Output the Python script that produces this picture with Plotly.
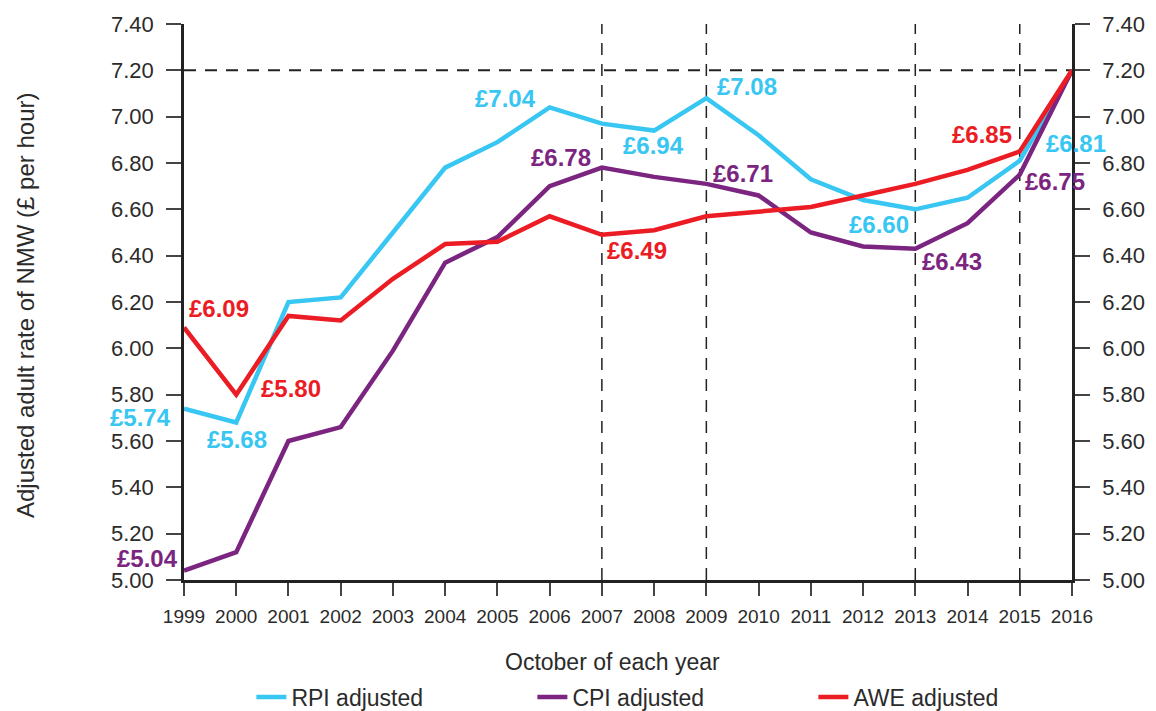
import plotly.graph_objects as go

years = list(range(1999, 2017))
rpi = [5.74, 5.68, 6.20, 6.22, 6.50, 6.78, 6.89, 7.04, 6.97, 6.94, 7.08, 6.92, 6.73, 6.64, 6.60, 6.65, 6.81, 7.20]
cpi = [5.04, 5.12, 5.60, 5.66, 5.99, 6.37, 6.48, 6.70, 6.78, 6.74, 6.71, 6.66, 6.50, 6.44, 6.43, 6.54, 6.75, 7.20]
awe = [6.09, 5.80, 6.14, 6.12, 6.30, 6.45, 6.46, 6.57, 6.49, 6.51, 6.57, 6.59, 6.61, 6.66, 6.71, 6.77, 6.85, 7.20]
y_ticks = [5.0, 5.2, 5.4, 5.6, 5.8, 6.0, 6.2, 6.4, 6.6, 6.8, 7.0, 7.2, 7.4]
target = 7.20
dashed_years = [2007, 2009, 2013, 2015]

C_RPI = "#38c6f2"
C_CPI = "#7b2581"
C_AWE = "#ec1c24"
TXT = "#2b2b2b"

series = {"RPI": (rpi, C_RPI, "RPI adjusted"),
          "CPI": (cpi, C_CPI, "CPI adjusted"),
          "AWE": (awe, C_AWE, "AWE adjusted")}

fig = go.Figure()
for key in ["RPI", "CPI", "AWE"]:
    vals, col, name = series[key]
    fig.add_trace(go.Scatter(x=years, y=vals, mode="lines", name=name,
                             line=dict(color=col, width=4.5), hoverinfo="skip"))
# transparent trace to anchor the right-hand axis
fig.add_trace(go.Scatter(x=years, y=rpi, yaxis="y2", mode="lines", showlegend=False,
                         line=dict(color="rgba(0,0,0,0)", width=0), hoverinfo="skip"))

# labels: (series, year, xanchor, xshift, yshift)
labels = [
    ("RPI", 1999, "right", -11, -9),
    ("RPI", 2000, "center", 1, -17.5),
    ("RPI", 2006, "center", -44.6, 9.4),
    ("RPI", 2008, "center", -1, -15.4),
    ("RPI", 2009, "center", 41, 11.6),
    ("RPI", 2013, "center", -36, -15),
    ("RPI", 2015, "center", 56, 16.7),
    ("CPI", 1999, "right", -4, 12.7),
    ("CPI", 2007, "center", -41, 10.6),
    ("CPI", 2009, "center", 37, 10.8),
    ("CPI", 2013, "center", 37, -12.3),
    ("CPI", 2015, "center", 35, -6.5),
    ("AWE", 1999, "center", 35, 19),
    ("AWE", 2000, "center", 55, 6),
    ("AWE", 2007, "center", 35, -15.7),
    ("AWE", 2015, "center", -38, 17),
]
for key, yr, xa, xs, ys in labels:
    vals, col, _ = series[key]
    v = vals[years.index(yr)]
    fig.add_annotation(x=yr, y=v, text=f"<b>£{v:.2f}</b>", showarrow=False,
                       xanchor=xa, yanchor="middle", xshift=xs, yshift=ys,
                       font=dict(family="Liberation Sans", size=24, color=col))

dash = "12px,9px"
fig.add_shape(type="line", xref="paper", x0=0, x1=1, yref="y", y0=target, y1=target,
              line=dict(color="#222", width=2, dash=dash), layer="below")
for yr in dashed_years:
    fig.add_shape(type="line", xref="x", x0=yr, x1=yr, yref="paper", y0=0, y1=1,
                  line=dict(color="#222", width=1.5, dash=dash), layer="below")

tickfont_y = dict(family="Liberation Sans", size=22, color=TXT)
axis_common = dict(range=[5.0, 7.4], tickvals=y_ticks, ticktext=[f"{t:.2f}" for t in y_ticks],
                   showgrid=False, zeroline=False, showline=True, linecolor="#222", linewidth=2.5,
                   ticks="outside", ticklen=15, tickwidth=1.5, tickcolor="#444",
                   ticklabelstandoff=8, tickfont=tickfont_y, automargin=False)

fig.update_layout(
    width=1148, height=703,
    margin=dict(l=176, r=84, t=16, b=131),
    paper_bgcolor="white", plot_bgcolor="white",
    xaxis=dict(range=[1999, 2016], tickvals=years, showgrid=False, zeroline=False,
               showline=True, linecolor="#222", linewidth=2.5, ticks="outside", ticklen=13,
               tickwidth=1.5, tickcolor="#444", ticklabelstandoff=4, automargin=False,
               tickfont=dict(family="Liberation Sans", size=19, color=TXT)),
    yaxis=axis_common,
    yaxis2=dict(overlaying="y", side="right", **axis_common),
    showlegend=True,
    legend=dict(orientation="h", xref="container", x=0.212, xanchor="left",
                yref="container", y=0.02, yanchor="middle", entrywidth=236,
                font=dict(family="Liberation Sans", size=23, color=TXT)),
    font=dict(family="Liberation Sans"),
)
fig.add_annotation(xref="paper", yref="paper", x=0.482, y=-0.1475, showarrow=False,
                   text="October of each year", xanchor="center", yanchor="middle",
                   font=dict(family="Liberation Sans", size=23, color=TXT))
fig.add_annotation(xref="paper", yref="paper", x=-0.179, y=0.4946, showarrow=False,
                   text="Adjusted adult rate of NMW (£ per hour)", textangle=-90,
                   xanchor="center", yanchor="middle",
                   font=dict(family="Liberation Sans", size=24, color=TXT))

fig.write_html("out.html")
